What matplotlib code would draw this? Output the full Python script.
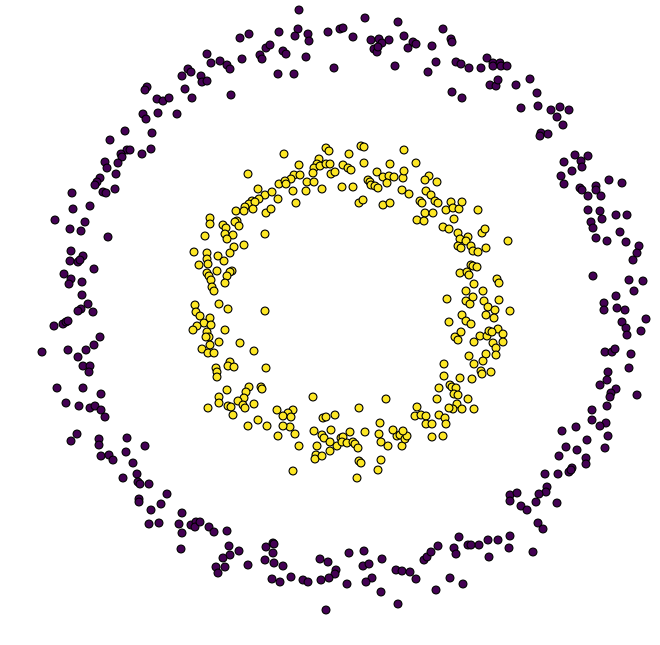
import matplotlib
matplotlib.use("Agg")
import matplotlib.pyplot as plt
import numpy as np

# outer ring (class 0)
outer_x = [
    -1.37, -1.33, -1.24, -1.56, -1.53, -1.62, -1.43, -1.42, -1.37, -1.97, -1.99, -1.59, -1.52, -1.87,
    -1.81, -1.75, -2.01, -1.98, -1.86, -1.67, -2.19, -1.92, -2.34, -1.93, -2.02, -2.17, -2.14, -2.23,
    -2.22, -2.26, -2.39, -2.37, -2.28, -2.44, -2.47, -2.49, -2.41, -2.38, -2.29, -2.72, -2.71, -2.54,
    -0.45, 0.21, 0.54, -1.04, -0.95, -0.65, -0.46, -0.49, -0.36, -0.35, -0.16, -0.04, -0.01, 0.09,
    0.27, 0.30, 0.33, 0.35, 0.38, 0.45, 0.34, 0.60, 0.69, 0.72, 0.64, 0.88, 0.92, 0.84, 0.51,
    -1.02, -0.84, -0.82, -0.78, -0.74, -0.61, -0.58, -0.38, -0.10, -0.66, -0.50, -1.17, -1.14, -1.13,
    0.99, 1.07, 1.08, 1.12, 1.17, 1.25, 1.37, 1.43, 1.49, 1.49, 1.56, 1.57, 1.63, 1.46, 1.52, 1.54,
    1.72, 1.86, 1.93, 1.08, 1.18, 1.77, 1.94, 2.07, 2.16, 2.25, 2.13, 2.19, 1.97, 1.96, 2.04, 2.31,
    2.44, 2.20, 2.37, 2.38, 2.28, 2.17, 2.20, 2.36, 2.38, 2.44, 2.52, 2.52, 2.57, 2.65, 2.78, 2.44,
    2.56, 2.72, 2.83,
    -2.89, -2.59, -2.74, -2.63, -2.36, -2.73, -2.61, -2.74, -2.66, -2.64, -2.50, -2.80, -2.73, -2.75,
    -2.62, -2.62, -2.56, -2.63, -2.66, -2.51, -2.90, -2.81, -2.78, -2.76, -2.44, -2.50, -2.58, -2.76,
    -3.02, -2.66, -2.61, -2.54, -2.55, -2.87, -2.61, -2.43, -2.78, -2.65, -2.54, -2.49, -2.43, -2.39,
    2.47, 2.49, 2.58, 2.76, 2.52, 2.63, 2.82, 2.95, 2.93, 2.89, 2.49, 2.85, 2.99, 2.90, 2.72, 2.60,
    2.60, 2.73, 2.81, 3.02, 2.78, 2.82, 2.83, 2.97, 2.61, 2.68, 2.71, 2.87, 2.85, 2.64, 2.63, 2.56,
    2.72, 2.67, 2.66, 2.93, 2.63, 2.48, 2.48, 2.62, 2.56, 2.32, 2.18,
    -2.67, -2.73, -2.45, -2.45, -2.17, -1.99, -2.18, -2.43, -2.35, -2.31, -2.11, -2.07, -2.21, -2.06,
    -2.04, -1.95, -1.77, -2.05, -2.05, -1.83, -1.93, -1.62, -1.95, -1.85, -1.65, -1.62, -1.53, -1.48,
    -1.49, -1.44, -1.35, -1.30, -1.63, -1.28, -1.26,
    -1.17, -1.15, -1.14, -1.21, -1.19, -1.05, -0.96, -0.78, -0.71, -0.70, -0.71, -0.70, -0.61, -0.79,
    -0.72, -0.64, -0.53, -0.41, -0.36, -0.24, -0.16, -0.08, -0.09, -0.15, -0.23, -0.18, 0.03, 0.05,
    0.20, 0.19, 0.25, 0.38, 0.28, 0.22, 0.37, 0.52, 0.58, 0.66, 0.72, 0.54, 0.80, 0.83, 0.87, 0.94,
    0.92,
    2.64, 2.43, 2.22, 2.15, 2.33, 2.42, 2.42, 2.61, 2.01, 2.14, 2.25, 2.28, 2.27, 2.03, 2.02, 1.95,
    1.92, 2.13, 1.66, 1.66, 1.73, 1.77, 1.83, 1.94, 1.99, 1.15, 1.66, 1.44, 1.54, 1.35, 1.24, 1.27,
    1.10, 1.12, 1.65, 1.45, 1.89, 1.06, 1.19,
]
outer_y = [
    2.56, 2.47, 2.49, 2.41, 2.38, 2.34, 2.34, 2.28, 2.29, 2.23, 2.20, 2.21, 2.12, 2.11,
    2.09, 2.12, 1.96, 1.91, 1.97, 1.96, 1.79, 1.77, 1.70, 1.61, 1.56, 1.60, 1.60, 1.56,
    1.53, 1.47, 1.48, 1.42, 1.36, 1.32, 1.28, 1.25, 1.18, 1.17, 1.21, 1.17, 1.01, 1.04,
    3.00, 2.92, 2.88, 2.72, 2.76, 2.78, 2.81, 2.74, 2.76, 2.69, 2.78, 2.81, 2.82, 2.73,
    2.70, 2.61, 2.58, 2.71, 2.67, 2.70, 2.63, 2.74, 2.68, 2.66, 2.62, 2.64, 2.48, 2.38, 2.44,
    2.51, 2.55, 2.51, 2.62, 2.65, 2.59, 2.56, 2.53, 2.42, 2.36, 2.36, 2.45, 2.41, 2.15,
    2.81, 2.71, 2.68, 2.48, 2.46, 2.42, 2.42, 2.52, 2.47, 2.44, 2.47, 2.44, 2.44, 2.25, 2.24, 2.30,
    2.25, 2.31, 2.17, 2.18, 2.12, 2.02, 2.04, 2.00, 2.03, 2.00, 1.93, 1.85, 1.77, 1.74, 1.76, 1.55,
    1.54, 1.48, 1.49, 1.43, 1.39, 1.34, 1.26, 1.22, 1.20, 1.14, 1.24, 1.20, 1.14, 1.30, 1.27, 1.00,
    0.99, 0.95, 0.95,
    0.90, 0.88, 0.81, 0.79, 0.73, 0.59, 0.54, 0.49, 0.48, 0.50, 0.41, 0.36, 0.31, 0.26,
    0.28, 0.15, 0.06, 0.01, -0.01, -0.02, -0.16, -0.14, -0.12, -0.11, -0.27, -0.35, -0.40, -0.40,
    -0.42, -0.47, -0.56, -0.56, -0.62, -0.78, -0.78, -0.84, -0.93, -0.96, -0.98, -0.96, -1.00, -1.07,
    0.88, 0.82, 0.91, 0.78, 0.72, 0.69, 0.68, 0.64, 0.57, 0.50, 0.34, 0.30, 0.29, 0.19, 0.14, 0.07,
    0.00, 0.02, 0.00, -0.09, -0.12, -0.18, -0.25, -0.21, -0.42, -0.42, -0.39, -0.44, -0.58, -0.62, -0.70, -0.75,
    -0.79, -0.83, -0.87, -0.85, -0.96, -1.00, -1.10, -1.13, -1.16, -1.17, -1.21,
    -1.24, -1.31, -1.29, -1.35, -1.28, -1.36, -1.42, -1.46, -1.45, -1.50, -1.53, -1.64, -1.68, -1.72,
    -1.74, -1.74, -1.84, -1.89, -1.92, -1.94, -2.00, -2.03, -2.14, -2.13, -2.14, -2.23, -2.15, -2.12,
    -2.17, -2.12, -2.17, -2.22, -2.39, -2.57, -2.63,
    -2.21, -2.36, -2.45, -2.48, -2.57, -2.41, -2.55, -2.37, -2.33, -2.34, -2.43, -2.53, -2.56, -2.50,
    -2.69, -2.72, -2.67, -2.70, -2.72, -2.49, -2.52, -2.60, -2.64, -2.68, -2.70, -3.00, -2.74, -2.43,
    -2.41, -2.56, -2.54, -2.49, -2.68, -2.72, -2.82, -2.60, -2.61, -2.62, -2.69, -2.94, -2.50, -2.47, -2.42, -2.36,
    -2.80,
    -1.26, -1.30, -1.37, -1.46, -1.40, -1.48, -1.54, -1.38, -1.64, -1.64, -1.62, -1.58, -1.60, -1.77, -1.82, -1.84,
    -1.92, -1.93, -1.85, -1.91, -1.83, -1.96, -2.00, -2.13, -2.19, -2.27, -2.26, -2.30, -2.30, -2.35, -2.35, -2.35,
    -2.38, -2.44, -2.38, -2.47, -2.42, -2.68, -2.74,
]

# inner ring (class 1)
inner_x = [
    -0.18, -0.15, 0.17, 0.20, 0.60, -0.60, 0.05, -0.45, -0.25, -0.27, -0.30, -0.31, -0.24, -0.18,
    -0.14, -0.01, 0.04, 0.07, 0.20, 0.46, 0.72, -0.96, -0.50, -0.44, -0.53, -0.65, -0.59, -0.58,
    -0.13, -0.09, 0.33, 0.39, 0.45, 0.50, 0.59, 0.60, 0.85, 0.81, 0.93, 0.24, 0.26, 0.27, 0.31,
    0.34, 0.43, -0.37, -0.30, -0.51, -0.38, -0.22, -0.02, 0.09, 0.58, 0.65, 0.82, 0.87, 0.91, 0.94,
    -0.86, -0.79, -0.72, -0.85, -0.92, -0.95, -0.89, -0.99, -1.08, -1.00, -0.91, -0.78, -0.73, -0.66,
    -0.48, 0.15, 0.19, 0.39, 0.46, 0.76, 0.78, 0.81, 0.89,
    1.02, 1.07, 1.09, 1.15, 1.18, 1.34,
    -1.34, -1.34, -1.39, -1.50, -1.37, -1.37, -1.36, -1.45, -1.26, -1.27, -1.37, -1.35, -1.33, -1.32,
    -1.30, -1.25, -1.49, -1.48, -1.44, -1.40, -1.34, -1.33, -1.47, -1.51, -1.37, -1.35, -1.38, -1.25,
    -1.34, -1.42, -1.36, -1.30, -1.28, -1.27, -1.27, -1.25, -1.25, -1.36,
    -1.07, -1.09, -1.05, -1.21, -1.18, -1.19, -1.11, -1.17, -1.00, -1.10, -1.14, -0.79, -1.20, -1.12,
    -1.14, -1.17, -1.19, -1.16, -0.79, -1.19, -1.04, -0.90, -1.14, -1.16, -1.10, -0.78, -0.95, -0.83,
    -0.82, -0.98, -1.17, -1.00, -1.06, -1.16, -1.13, -1.01, -0.99, -0.90, -1.11, -0.67, -0.51, -0.56,
    -0.61, -0.53, -0.54, -0.61, -0.31, -0.21, -0.18, -0.09, 0.15, 0.42, 0.36, 0.73, 0.71, 0.77, 0.82,
    0.82, 0.88, 0.95, 0.93, 0.95, -0.96, -0.77, -0.86, 0.73, 0.80,
    1.10, 0.99, 1.05, 1.14, 1.16, 1.24, 1.22, 1.14, 1.17, 1.27, 1.29, 1.34, 1.42, 1.38, 1.41, 1.64,
    1.27, 1.29, 1.33, 1.16, 1.23, 1.25, 1.53, 1.55, 1.30, 1.39, 1.22, 1.03, 1.22, 1.26, 1.29, 1.40,
    1.44, 1.51, 1.55, 1.66, 1.42, 1.50, 1.18, 1.22, 1.27, 1.05, 1.17, 1.11, 1.14, 1.30, 1.36, 1.43,
    1.45, 1.54, 1.48, 1.59, 1.59, 1.49, 1.52, 1.52, 1.42, 1.25, 1.30, 1.39, 1.00, 1.00, 1.16, 1.28,
    1.37, 1.38, 1.47, 1.06, 1.08, 1.12, 1.10, 1.14, 1.24, 1.13, 1.09, 1.18, 1.05, 1.30, 1.01, 1.02,
    -0.66, -0.49, -0.45, -0.27, -0.22, -0.20, -0.14, -0.28, -0.29, -0.22, -0.14, -0.07, -0.03, -0.01,
    -0.02, 0.03, 0.09, 0.11, 0.14, 0.06, 0.21, 0.35, 0.37, 0.44, 0.53, 0.56, 0.58, 0.61, 0.63, 0.88,
    0.15, 0.17, 0.37, 0.34, -0.51, 0.13, -0.30, -0.13, 0.49, 0.59, 0.99,
]
inner_y = [
    1.62, 1.59, 1.64, 1.63, 1.60, 1.56, 1.56, 1.45, 1.51, 1.46, 1.42, 1.37, 1.44, 1.46,
    1.46, 1.45, 1.42, 1.40, 1.47, 1.46, 1.47, 1.36, 1.35, 1.35, 1.31, 1.26, 1.29, 1.26,
    1.36, 1.38, 1.38, 1.33, 1.34, 1.33, 1.32, 1.39, 1.34, 1.30, 1.28, 1.30, 1.28, 1.25, 1.24,
    1.22, 1.27, 1.28, 1.28, 1.19, 1.19, 1.21, 1.23, 1.23, 1.20, 1.16, 1.19, 1.15, 1.09, 1.07,
    1.21, 1.15, 1.18, 1.11, 1.09, 1.06, 1.08, 1.03, 0.99, 0.99, 1.01, 0.97, 1.01, 1.11,
    1.07, 1.07, 1.10, 1.05, 1.07, 1.09, 1.07, 0.97, 0.97,
    1.00, 1.08, 1.02, 1.01, 1.08, 1.00,
    0.92, 0.86, 0.74, 0.58, 0.57, 0.51, 0.46, 0.45, 0.54, 0.39, 0.37, 0.34, 0.30, 0.23,
    0.19, 0.06, 0.05, -0.02, -0.06, -0.13, -0.08, -0.15, -0.16, -0.20, -0.22, -0.27, -0.27, -0.32,
    -0.35, -0.39, -0.43, -0.43, -0.58, -0.62, -0.67, -0.87, -0.93, -0.98,
    0.89, 0.88, 0.84, 0.85, 0.82, 0.76, 0.75, 0.71, 0.65, 0.63, 0.57, 0.76, 0.49, 0.39,
    0.38, 0.34, 0.27, 0.01, -0.01, -0.20, -0.33, -0.41, -0.52, -0.56, -0.57, -0.58, -0.77, -0.77,
    -0.79, -0.82, -0.80, -0.88, -0.91, -0.96, -0.97, -0.95, -0.98, -0.94, -1.05, -1.00, -1.00, -1.03,
    -1.06, -1.07, -1.17, -1.16, -0.87, -1.08, -1.07, -1.05, -0.98, -0.89, -1.13, -0.97, -1.06, -1.05, -1.06,
    -1.14, -1.14, -0.78, -0.89, -1.05, -1.16, -1.16, -1.10, 0.90, 0.89,
    0.91, 0.83, 0.81, 0.77, 0.71, 0.73, 0.69, 0.64, 0.62, 0.64, 0.59, 0.58, 0.62, 0.77, 0.81, 0.69,
    0.45, 0.44, 0.43, 0.37, 0.38, 0.35, 0.31, 0.27, 0.26, 0.19, 0.19, 0.11, 0.09, 0.06, 0.13, 0.09,
    0.03, 0.00, 0.10, -0.01, -0.05, -0.08, -0.05, -0.11, -0.14, -0.12, -0.22, -0.27, -0.30, -0.32, -0.26, -0.26,
    -0.21, -0.19, -0.22, -0.24, -0.32, -0.33, -0.38, -0.45, -0.44, -0.46, -0.54, -0.51, -0.54, -0.66, -0.68, -0.69,
    -0.61, -0.64, -0.62, -0.75, -0.77, -0.78, -0.84, -0.85, -0.89, -0.94, -0.99, -0.99, -0.98, -0.99, -1.08, -1.14,
    -1.26, -1.24, -1.36, -1.36, -1.25, -1.28, -1.32, -1.45, -1.49, -1.46, -1.41, -1.36, -1.28, -1.27,
    -1.32, -1.33, -1.32, -1.34, -1.38, -1.22, -1.22, -1.24, -1.32, -1.36, -1.26, -1.25, -1.36, -1.29, -1.26, -1.27,
    -1.51, -1.53, -1.50, -1.60, -1.61, -1.68, -1.21, -1.20, -1.20, -1.21, -1.26,
]

x = np.array(outer_x + inner_x)
y = np.array(outer_y + inner_y)
labels = np.array([0] * len(outer_x) + [1] * len(inner_x))

fig = plt.figure(figsize=(6.6, 6.45), dpi=100)
ax = fig.add_axes([0, 0, 1, 1])
ax.scatter(x, y, c=labels, cmap="viridis", s=32, edgecolors="black", linewidths=0.8)
ax.set_xlim(-3.44, 3.16)
ax.set_ylim(-3.35, 3.10)
ax.axis("off")

fig.savefig("out.png", dpi=100)
